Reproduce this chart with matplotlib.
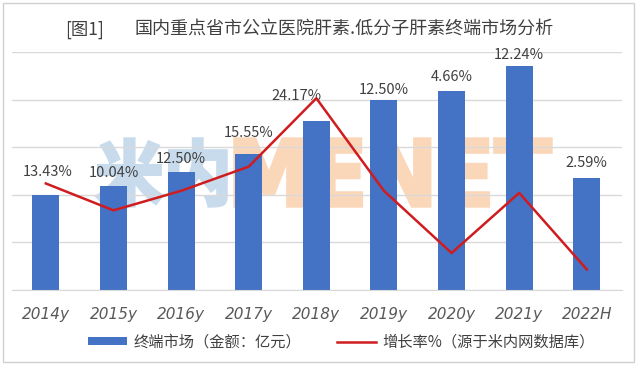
import matplotlib
matplotlib.use('Agg')
import matplotlib.pyplot as plt
from matplotlib.textpath import TextPath
from matplotlib.font_manager import FontProperties
from matplotlib.patches import PathPatch, Rectangle
from matplotlib.transforms import Affine2D, IdentityTransform

plt.rcParams['font.family'] = ['Noto Sans CJK SC', 'DejaVu Sans']

# 数据
years = ['2014y', '2015y', '2016y', '2017y', '2018y', '2019y', '2020y', '2021y', '2022H']
market = [20.0, 21.9, 24.8, 28.6, 35.5, 39.9, 41.8, 47.0, 23.6]
growth = [13.43, 10.04, 12.50, 15.55, 24.17, 12.50, 4.66, 12.24, 2.59]
growth_labels = ['13.43%', '10.04%', '12.50%', '15.55%', '24.17%', '12.50%', '4.66%', '12.24%', '2.59%']

# 标签相对柱顶的偏移（像素）
label_dy = [23, 13, 13, 21, 25, 10, 14, 11, 15]
label_dx = [2, 0, 0, 0, -20, 0, 0, 0, 0]

fig = plt.figure(figsize=(6.4, 3.68), dpi=100)
ax = fig.add_axes([12 / 640, 78 / 368, 610 / 640, 238 / 368])
ax.patch.set_visible(False)
ax2 = ax.twinx()

x = list(range(len(years)))
bars = ax.bar(x, market, width=0.4, color='#4472c4', zorder=2, label='终端市场（金额：亿元）')
ax.set_ylim(0, 50)
ax.set_xlim(-0.5, 8.52)
ax.set_yticks([0, 10, 20, 30, 40, 50])
ax.yaxis.grid(True, color='#d9d9d9', linewidth=1)
ax.set_axisbelow(True)
ax.tick_params(axis='y', left=False, labelleft=False)
ax.tick_params(axis='x', bottom=False, pad=9)
ax.set_xticks(x)
ax.set_xticklabels(years, fontsize=11, style='italic', color='#595959', family='DejaVu Sans')
for s in ['top', 'right', 'left']:
    ax.spines[s].set_visible(False)
ax.spines['bottom'].set_color('#d9d9d9')

line, = ax2.plot(x, growth, color='#d01c1f', linewidth=1.8, zorder=5, label='增长率%（源于米内网数据库）')
ax2.set_ylim(0, 30)
ax2.axis('off')

# 数据标签
for i, b in enumerate(bars):
    ax.annotate(growth_labels[i], (b.get_x() + b.get_width() / 2, b.get_height()),
                xytext=(label_dx[i] * 0.72, label_dy[i] * 0.72), textcoords='offset points',
                ha='center', va='center', fontsize=10.5, color='#404040', zorder=6)

# 标题
fig.text(65 / 640, 1 - 30 / 368, '[图1]', fontsize=12.5, color='#404040', va='center')
fig.text(135 / 640, 1 - 30 / 368, '国内重点省市公立医院肝素.低分子肝素终端市场分析',
         fontsize=13, color='#404040', va='center')

# 水印（放在柱子后面）
def watermark(s, box, color, family):
    tp = TextPath((0, 0), s, size=100, prop=FontProperties(family=family, weight='bold'))
    ext = tp.get_extents()
    x0, y0, x1, y1 = box
    sx = (x1 - x0) / ext.width
    sy = (y1 - y0) / ext.height
    tr = Affine2D().translate(-ext.x0, -ext.y0).scale(sx, sy).translate(x0, 368 - y1)
    p = PathPatch(tr.transform_path(tp), facecolor=color, edgecolor=color, linewidth=2.5,
                  transform=IdentityTransform(), zorder=-1)
    fig.add_artist(p)

watermark('米内', (97, 139, 226, 206), '#c8dbec', 'Noto Sans CJK SC')
watermark('MENET', (235, 139, 551, 206), '#fbd7ba', 'DejaVu Sans')

# 图例
fig.legend(handles=[bars, line], loc='center left', bbox_to_anchor=(88 / 640, 1 - 342 / 368),
           ncol=2, frameon=False, fontsize=11, handlelength=2.55, handleheight=0.45,
           columnspacing=2.4, handletextpad=0.4, borderpad=0, borderaxespad=0,
           labelcolor='#404040')

# 外框
fig.add_artist(Rectangle((3 / 640, 6 / 368), 631 / 640, 359 / 368, transform=fig.transFigure,
                         fill=False, edgecolor='#d0d0d0', linewidth=1))

fig.savefig('out.png', dpi=100)
